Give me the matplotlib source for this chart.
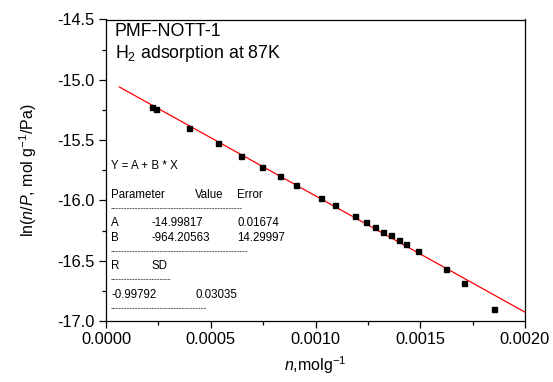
import matplotlib
matplotlib.use("Agg")
import matplotlib.pyplot as plt
import numpy as np
from matplotlib.ticker import MultipleLocator

plt.rcParams['font.family'] = ['Liberation Sans', 'DejaVu Sans']
plt.rcParams['mathtext.fontset'] = 'custom'
plt.rcParams['mathtext.rm'] = 'Liberation Sans'
plt.rcParams['mathtext.it'] = 'Liberation Sans:italic'

n_vals = [0.000218, 0.000239, 0.000395, 0.000535, 0.000644, 0.000743, 0.000832,
          0.000908, 0.001028, 0.001095, 0.001189, 0.001241, 0.001286, 0.001324,
          0.001360, 0.001399, 0.001432, 0.001489, 0.001621, 0.001710, 0.001852]
lnnp_vals = [-15.228, -15.242, -15.400, -15.525, -15.628, -15.720, -15.800,
             -15.870, -15.978, -16.040, -16.128, -16.175, -16.220, -16.258,
             -16.290, -16.328, -16.358, -16.420, -16.567, -16.683, -16.898]
fit_A = -14.99817
fit_B = -964.20563
fit_range = [0.0000636, 0.002]

W, H = 553, 382
fig = plt.figure(figsize=(W/100, H/100), dpi=100)
ax = fig.add_axes([106/W, 1-321/H, (525-106)/W, (321-19.5)/H])

xf = np.array(fit_range)
ax.plot(xf, fit_A + fit_B*xf, color='red', lw=0.9, zorder=2)
ax.plot(n_vals, lnnp_vals, 's', color='black', ms=3.6, zorder=3)

ax.set_xlim(0, 0.002)
ax.set_ylim(-17, -14.5)
ax.xaxis.set_major_locator(MultipleLocator(0.0005))
ax.xaxis.set_minor_locator(MultipleLocator(0.00025))
ax.yaxis.set_major_locator(MultipleLocator(0.5))
ax.yaxis.set_minor_locator(MultipleLocator(0.25))
ax.set_xticks([0, 0.0005, 0.001, 0.0015, 0.002])
ax.set_xticklabels(['0.0000', '0.0005', '0.0010', '0.0015', '0.0020'])
ax.set_yticks([-17.0, -16.5, -16.0, -15.5, -15.0, -14.5])
ax.set_yticklabels(['-17.0', '-16.5', '-16.0', '-15.5', '-15.0', '-14.5'])
ax.tick_params(which='major', direction='out', length=5, width=0.9, labelsize=11.8, pad=3)
ax.tick_params(which='minor', direction='out', length=3, width=0.9)
for s in ax.spines.values():
    s.set_linewidth(0.9)

ax.set_xlabel(r'$\it{n}$,molg$^{\mathrm{-1}}$', fontsize=11.5, labelpad=5)
ax.set_ylabel(r'ln($\it{n}$/$\it{P}$, mol g$^{\mathrm{-1}}$/Pa)', fontsize=11.5, labelpad=13)

def ft(px, py, s, size=8.3, **kw):
    fig.text(px/W, 1-py/H, s, fontsize=size, va='center', ha='left', **kw)

ft(115, 31, 'PMF-NOTT-1', size=12.8)
ft(115, 54, r'H$_2$ adsorption at 87K', size=12.8)

ft(111, 166, 'Y = A + B * X')
ft(111, 195, 'Parameter')
ft(195, 195, 'Value')
ft(237, 195, 'Error')
ft(111, 209, '-' * 48, size=6)
ft(111, 223, 'A')
ft(152, 223, '-14.99817')
ft(237, 223, '0.01674')
ft(111, 238, 'B')
ft(152, 238, '-964.20563')
ft(237, 238, '14.29997')
ft(111, 252, '-' * 50, size=6)
ft(111, 266, 'R')
ft(152, 266, 'SD')
ft(111, 280, '-' * 22, size=6)
ft(111, 295, '-0.99792')
ft(195, 295, '0.03035')
ft(111, 309, '-' * 35, size=6)

fig.savefig('out.png', dpi=100)
